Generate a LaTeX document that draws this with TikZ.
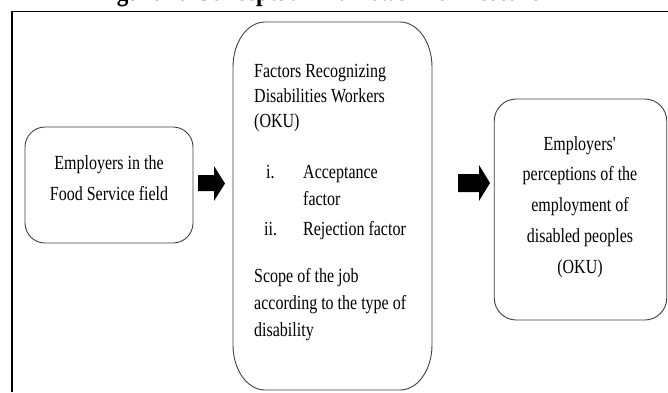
\documentclass[tikz,border=0pt]{standalone}
\usepackage{fontspec}
\setmainfont{Liberation Serif}[FakeStretch=0.8]
\newcommand{\tstrut}{\rule{0pt}{14pt}}
\begin{document}
\begin{tikzpicture}[x=1pt,y=-1pt,
  box/.style={draw=black!75, line width=0.9pt, inner sep=0pt},
  txt/.style={inner sep=0pt, font=\fontsize{20}{25}\selectfont},
  blockarrow/.style={fill=black, draw=none}]
\path[use as bounding box] (0,0) rectangle (668,392);
% clipped title (only its lowest part lies inside the picture)
\begin{scope}
\clip (0,0) rectangle (668,392);
\node[inner sep=0pt, anchor=base west, font=\fontsize{29}{30}\selectfont\bfseries] (title) at (96,0.5) {Figure 1: Conceptual Framework of Research};
\end{scope}
% outer frame
\draw[line width=1.4pt, black] (11.8,392) -- (11.8,11.5) -- (668,11.5);
% left box
\node[box, rounded corners=20pt, minimum width=168pt, minimum height=116pt] (emp) at (109,185) {};
\node[txt, align=center, anchor=north, font=\fontsize{20}{31}\selectfont] (empt) at (109,155) {\tstrut Employers in the\\Food Service field};
% arrow 1
\fill[blockarrow] (198,175) -- (214,175) -- (214,166) -- (225,183.5) -- (214,201) -- (214,191) -- (198,191) -- cycle;
% middle box
\node[inner sep=0pt, minimum width=199pt, minimum height=368pt] (fac) at (332.5,206) {};
\draw[box] (265,22) -- (400,22) .. controls (417.7,22) and (432,42.1) .. (432,67)
  -- (432,345) .. controls (432,369.9) and (417.7,390) .. (400,390)
  -- (265,390) .. controls (247.3,390) and (233,369.9) .. (233,345)
  -- (233,67) .. controls (233,42.1) and (247.3,22) .. (265,22) -- cycle;
\node[txt, align=left, anchor=north west, font=\fontsize{20}{25}\selectfont] (fh) at (254,63) {\tstrut Factors Recognizing\\Disabilities Workers\\(OKU)};
\node[txt, anchor=base west] (i1) at (266,178) {i.};
\node[txt, anchor=base west] (a1) at (303,178) {Acceptance};
\node[txt, anchor=base west] (a1b) at (303,205) {factor};
\node[txt, anchor=base west] (i2) at (264,235) {ii.};
\node[txt, anchor=base west] (a2) at (303,235) {Rejection factor};
\node[txt, align=left, anchor=north west, font=\fontsize{20}{27}\selectfont] (sc) at (254,268) {\tstrut Scope of the job\\according to the type of\\disability};
% arrow 2
\fill[blockarrow] (458,174) -- (479,174) -- (479,165) -- (490,183) -- (479,201) -- (479,192) -- (458,192) -- cycle;
% right box
\node[box, rounded corners=22pt, minimum width=172.5pt, minimum height=221pt] (perc) at (580.5,209.5) {};
\node[txt, align=center, anchor=north, font=\fontsize{20}{30.7}\selectfont] (perct) at (580,136) {\tstrut Employers\textquotesingle\\perceptions of the\\employment of\\disabled peoples\\(OKU)};
\end{tikzpicture}
\end{document}
